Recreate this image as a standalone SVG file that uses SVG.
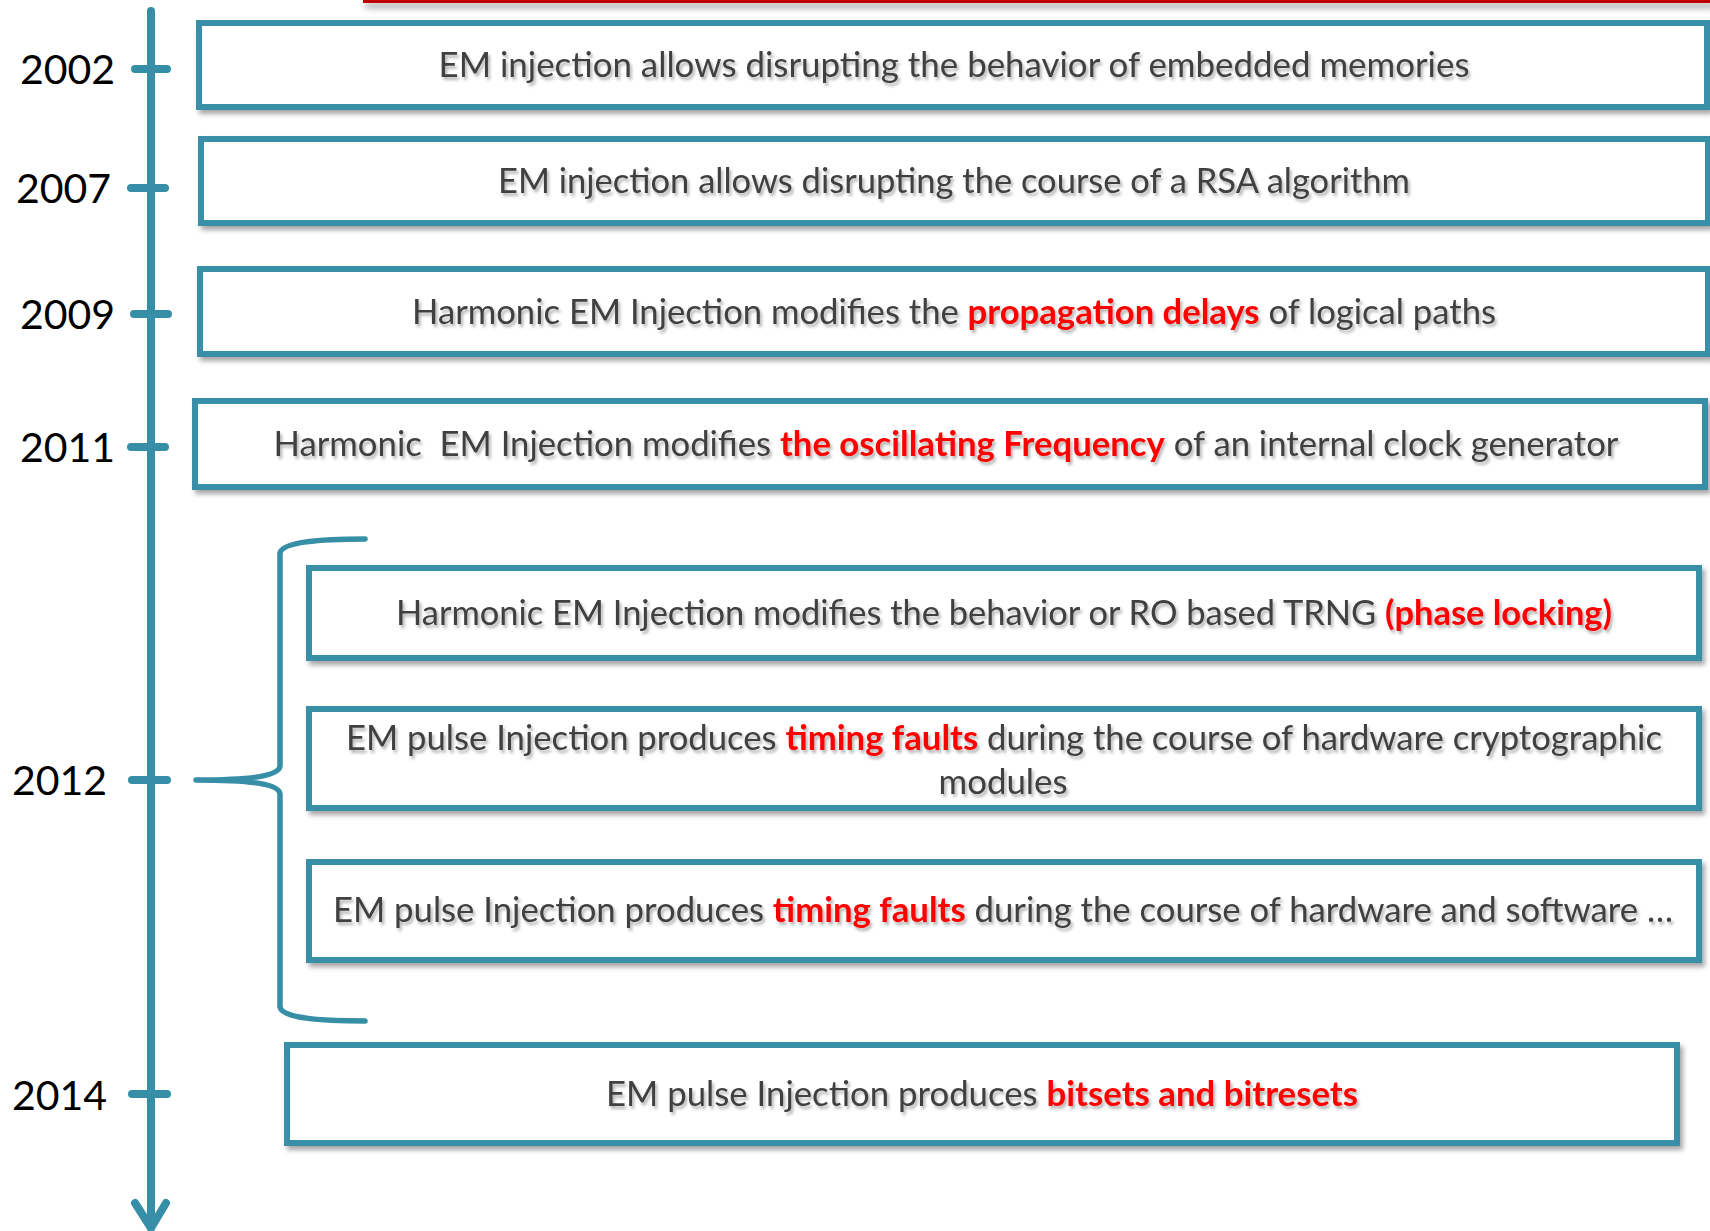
<svg xmlns="http://www.w3.org/2000/svg" width="1710" height="1231" viewBox="0 0 1710 1231">
  <defs>
    <filter id="boxShadow" x="-5%" y="-20%" width="110%" height="150%">
      <feGaussianBlur in="SourceAlpha" stdDeviation="2.5"/>
      <feOffset dx="3" dy="4" result="off"/>
      <feFlood flood-color="#000" flood-opacity="0.35"/>
      <feComposite in2="off" operator="in"/>
      <feMerge><feMergeNode/><feMergeNode in="SourceGraphic"/></feMerge>
    </filter>
    <filter id="textShadow" x="-5%" y="-30%" width="110%" height="170%">
      <feGaussianBlur in="SourceAlpha" stdDeviation="1.8"/>
      <feOffset dx="2" dy="3" result="off"/>
      <feFlood flood-color="#000" flood-opacity="0.3"/>
      <feComposite in2="off" operator="in"/>
      <feMerge><feMergeNode/><feMergeNode in="SourceGraphic"/></feMerge>
    </filter>
    <filter id="barShadow" x="-5%" y="-100%" width="110%" height="800%">
      <feGaussianBlur in="SourceAlpha" stdDeviation="3"/>
      <feOffset dx="2" dy="5" result="off"/>
      <feFlood flood-color="#000" flood-opacity="0.35"/>
      <feComposite in2="off" operator="in"/>
      <feMerge><feMergeNode/><feMergeNode in="SourceGraphic"/></feMerge>
    </filter>
  </defs>
  <style>
    .box { fill: #ffffff; stroke: #378FA7; stroke-width: 6; filter: url(#boxShadow); }
    .axis { fill: none; stroke: #378FA7; stroke-width: 8; stroke-linecap: round; stroke-linejoin: round; }
    .brace { fill: none; stroke: #378FA7; stroke-width: 5.5; stroke-linecap: round; stroke-linejoin: round; }
    .year { font-family: Lato, "Liberation Sans", sans-serif; font-size: 41px; fill: #000000; }
    .label { font-family: Lato, "Open Sans", "Liberation Sans", sans-serif; font-size: 34px; fill: #404040; text-anchor: middle; filter: url(#textShadow); white-space: pre; }
    .hl { font-weight: 700; fill: #FF0000; }
  </style>

  <rect width="1710" height="1231" fill="#ffffff"/>

  <!-- red rule along the top edge -->
  <rect x="363" y="-2" width="1350" height="5" fill="#C00000" filter="url(#barShadow)"/>

  <!-- timeline axis, ticks, brace -->
  <g id="connectors">
    <line class="axis" x1="151" y1="11" x2="151" y2="1228"/>
    <polyline class="axis" points="135,1203 151,1228 166,1203"/>
    <line class="axis" x1="135" y1="69" x2="167" y2="69"/>
    <line class="axis" x1="131" y1="188" x2="165" y2="188"/>
    <line class="axis" x1="134" y1="314" x2="168" y2="314"/>
    <line class="axis" x1="131" y1="447" x2="165" y2="447"/>
    <line class="axis" x1="132" y1="780" x2="167" y2="780"/>
    <line class="axis" x1="132" y1="1094" x2="167" y2="1094"/>
    <path class="brace" d="M365,539 C320,539 282,542 280,553 L280,766 C279,776 250,780 196,780 C250,780 279,784 280,794 L280,1007 C282,1018 320,1021 365,1021"/>
  </g>

  <!-- year labels -->
  <g id="years">
    <text class="year" x="20" y="84">2002</text>
    <text class="year" x="16" y="203">2007</text>
    <text class="year" x="20" y="329">2009</text>
    <text class="year" x="20" y="462">2011</text>
    <text class="year" x="12" y="795">2012</text>
    <text class="year" x="12" y="1110">2014</text>
  </g>

  <g id="node-2002">
    <rect class="box" x="199" y="23" width="1508" height="84"/>
    <text class="label" x="954" y="77" textLength="1031" lengthAdjust="spacingAndGlyphs">EM injection allows disrupting the behavior of embedded memories</text>
  </g>

  <g id="node-2007">
    <rect class="box" x="201" y="139" width="1507" height="84"/>
    <text class="label" x="954" y="193" textLength="912" lengthAdjust="spacingAndGlyphs">EM injection allows disrupting the course of a RSA algorithm</text>
  </g>

  <g id="node-2009">
    <rect class="box" x="200" y="269" width="1508" height="85"/>
    <text class="label" x="954" y="324" textLength="1084" lengthAdjust="spacingAndGlyphs">Harmonic EM Injection modifies the <tspan class="hl">propagation delays</tspan> of logical paths</text>
  </g>

  <g id="node-2011">
    <rect class="box" x="195" y="401" width="1510" height="86"/>
    <text class="label" x="946" y="456" textLength="1345" lengthAdjust="spacingAndGlyphs">Harmonic  EM Injection modifies <tspan class="hl">the oscillating Frequency</tspan> of an internal clock generator</text>
  </g>

  <g id="node-2012-trng">
    <rect class="box" x="309" y="568" width="1390" height="90"/>
    <text class="label" x="1004" y="625" textLength="1216" lengthAdjust="spacingAndGlyphs">Harmonic EM Injection modifies the behavior or RO based TRNG <tspan class="hl">(phase locking)</tspan></text>
  </g>

  <g id="node-2012-hw">
    <rect class="box" x="309" y="709" width="1390" height="99"/>
    <text class="label" x="1004" y="750" textLength="1316" lengthAdjust="spacingAndGlyphs">EM pulse Injection produces <tspan class="hl">timing faults</tspan> during the course of hardware cryptographic</text>
    <text class="label" x="1003" y="794" textLength="129" lengthAdjust="spacingAndGlyphs">modules</text>
  </g>

  <g id="node-2012-hwsw">
    <rect class="box" x="309" y="862" width="1390" height="98"/>
    <text class="label" x="1003" y="922" textLength="1340" lengthAdjust="spacingAndGlyphs">EM pulse Injection produces <tspan class="hl">timing faults</tspan> during the course of hardware and software …</text>
  </g>

  <g id="node-2014">
    <rect class="box" x="287" y="1045" width="1390" height="98"/>
    <text class="label" x="982" y="1106" textLength="752" lengthAdjust="spacingAndGlyphs">EM pulse Injection produces <tspan class="hl">bitsets and bitresets</tspan></text>
  </g>
</svg>
